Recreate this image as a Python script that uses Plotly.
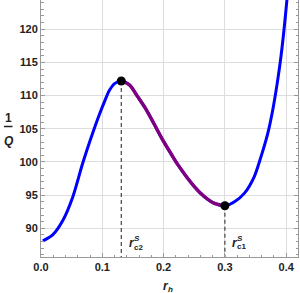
import plotly.graph_objects as go

# ---- data ----
r_left = [0.003, 0.019, 0.036, 0.052, 0.068, 0.0845, 0.0954, 0.1036, 0.1117, 0.120, 0.131]
q_left = [88.1, 89.0, 91.25, 94.76, 99.8, 104.4, 107.2, 109.1, 110.8, 111.8, 112.2]

r_mid = [0.131, 0.1444, 0.158, 0.1716, 0.1852, 0.1987, 0.2124, 0.2232, 0.2504, 0.2667, 0.283, 0.300]
q_mid = [112.2, 111.6, 109.8, 107.9, 105.6, 103.3, 101.2, 99.6, 96.26, 94.76, 93.76, 93.4]

r_right = [0.300, 0.3157, 0.332, 0.348, 0.359, 0.370, 0.378, 0.3853, 0.3907, 0.396, 0.401, 0.407]
q_right = [93.4, 94.0, 95.3, 97.8, 100.8, 104.3, 107.8, 111.8, 115.3, 119.5, 124.2, 130.5]

crit_r = [0.131, 0.300]
crit_q = [112.2, 93.4]
crit_names = ["c2", "c1"]

x_ticks = [0.0, 0.1, 0.2, 0.3, 0.4]
x_ticklabels = ["0.0", "0.1", "0.2", "0.3", "0.4"]
y_ticks = [90, 95, 100, 105, 110, 115, 120]

X_RANGE = [0.0, 0.4193]
Y_RANGE = [85.68, 124.4]

W, H = 300, 293
ML, MR, MT, MB = 41, 2, 0, 36
PW, PH = W - ML - MR, H - MT - MB

def px2paper(px, py):
    return (px - ML) / PW, (H - MB - py) / PH

BLUE = "#0000FF"
PURPLE = "#800080"

r_all = r_left + r_mid[1:] + r_right[1:]
q_all = q_left + q_mid[1:] + q_right[1:]

fig = go.Figure()
fig.add_trace(go.Scatter(x=r_all, y=q_all, mode="lines",
                         line=dict(color=BLUE, width=3, shape="spline", smoothing=0.8),
                         showlegend=False, hoverinfo="skip"))
fig.add_trace(go.Scatter(x=r_mid, y=q_mid, mode="lines",
                         line=dict(color=PURPLE, width=3.4, shape="spline", smoothing=0.8),
                         showlegend=False, hoverinfo="skip"))

for r0, q0 in zip(crit_r, crit_q):
    fig.add_trace(go.Scatter(x=[r0, r0], y=[q0, Y_RANGE[0]], mode="lines",
                             line=dict(color="#444444", width=1.2, dash="4px,3px"),
                             showlegend=False, hoverinfo="skip"))

fig.add_trace(go.Scatter(x=crit_r, y=crit_q, mode="markers",
                         marker=dict(color="black", size=9), showlegend=False, hoverinfo="skip"))

FONT = "Liberation Sans"
axis_common = dict(
    showgrid=True, gridcolor="#dddddd", gridwidth=1.3,
    showline=True, linecolor="#999999", linewidth=1,
    ticks="inside", ticklen=4, tickwidth=1, tickcolor="#999999",
    zeroline=False, automargin=False,
    tickfont=dict(family=FONT, size=11, color="#222222"),
)

fig.update_xaxes(range=X_RANGE, tickvals=x_ticks, ticktext=["<b>%s</b>" % t for t in x_ticklabels],
                 minor=dict(dtick=0.02, ticks="inside", ticklen=2.5, tickcolor="#999999", showgrid=False),
                 mirror=False, **axis_common)
fig.update_yaxes(range=Y_RANGE, tickvals=y_ticks, ticktext=["<b>%d</b>" % t for t in y_ticks],
                 minor=dict(dtick=1, ticks="inside", ticklen=2.5, tickcolor="#999999", showgrid=False),
                 mirror="ticks", **axis_common)

ann = []
# y title: fraction 1/Q
xp, yp = px2paper(8, 118)
ann.append(dict(x=xp, y=yp, xref="paper", yref="paper", text="<b>1</b>", showarrow=False,
                font=dict(family=FONT, size=12, color="#222222"), xanchor="center", yanchor="middle"))
xp, yp = px2paper(8.5, 140.5)
ann.append(dict(x=xp, y=yp, xref="paper", yref="paper", text="<b><i>Q</i></b>", showarrow=False,
                font=dict(family=FONT, size=12, color="#222222"), xanchor="center", yanchor="middle"))
# x title
xp, yp = px2paper(166, 286)
ann.append(dict(x=xp, y=yp, xref="paper", yref="paper", text="<b><i>r</i></b>", showarrow=False,
                font=dict(family=FONT, size=12, color="#222222"), xanchor="center", yanchor="middle"))
xp, yp = px2paper(170.5, 289.5)
ann.append(dict(x=xp, y=yp, xref="paper", yref="paper", text="<b><i>h</i></b>", showarrow=False,
                font=dict(family=FONT, size=8, color="#222222"), xanchor="center", yanchor="middle"))

# critical point labels
label_pos = {"c2": (132, 137, 138.5, 243, 238, 247), "c1": (235, 240, 241, 243, 238, 246.8)}
for name in crit_names:
    rx, sx, cx, ry, sy, cy = label_pos[name]
    for txt, x0, y0, sz in [("<b><i>r</i></b>", rx, ry, 12), ("<b><i>S</i></b>", sx, sy, 8),
                            ("<b>%s</b>" % name, cx, cy, 8)]:
        xp, yp = px2paper(x0, y0)
        ann.append(dict(x=xp, y=yp, xref="paper", yref="paper", text=txt, showarrow=False,
                        font=dict(family=FONT, size=sz, color="#222222"), xanchor="center", yanchor="middle"))

x0p, y0p = px2paper(4, 126.5)
x1p, _ = px2paper(12.5, 126.5)

fig.update_layout(
    width=W, height=H, margin=dict(l=ML, r=MR, t=MT, b=MB),
    paper_bgcolor="white", plot_bgcolor="white",
    annotations=ann,
    shapes=[dict(type="line", xref="paper", yref="paper", x0=x0p, x1=x1p, y0=y0p, y1=y0p,
                 line=dict(color="#222222", width=1.5))],
)

fig.write_html("out.html", config={"displayModeBar": False},
               post_script="document.body.style.margin='0';document.body.style.overflow='hidden';")
